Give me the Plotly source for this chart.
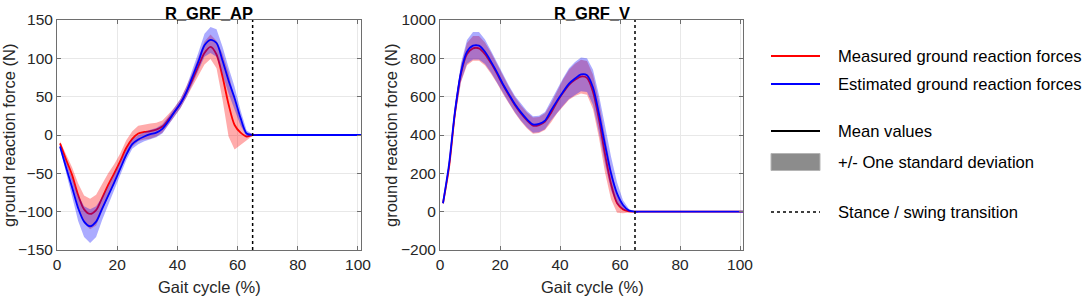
import plotly.graph_objects as go

W, H = 1084, 297

# ---------------- data ----------------
gait = [1, 3, 5, 7, 9, 11, 13, 15, 17, 19, 21, 23, 25, 27, 29, 31, 33,
        35, 37, 39, 41, 43, 45, 47, 49, 51, 53, 55, 57, 59, 61, 63, 65, 67, 101]

# R_GRF_AP
ap_meas_mean = [-11, -32, -52, -78, -97, -103, -98, -82, -65, -50, -34, -17, -5, 2, 4, 5, 7,
                11, 20, 30, 41, 56, 72, 90, 107, 115, 105, 76, 40, 13, 3, -2, 0, 0, 0]
ap_meas_std = [3, 6, 10, 15, 18, 20, 20, 18, 15, 12, 10, 10, 10, 10, 10, 10, 9,
               8, 7, 6, 6, 7, 9, 12, 15, 16, 18, 30, 42, 32, 15, 5, 1, 0, 0]
ap_est_mean = [-15, -42, -68, -95, -113, -119, -113, -96, -79, -62, -44, -26, -12, -6, -2, 1, 3,
               8, 18, 30, 41, 56, 76, 96, 117, 124, 120, 97, 71, 48, 22, 2, 0, 0, 0]
ap_est_std = [3, 7, 12, 17, 20, 22, 20, 15, 12, 10, 8, 7, 6, 6, 6, 6, 6,
              6, 6, 6, 6, 7, 9, 12, 15, 17, 18, 18, 17, 15, 10, 4, 1, 0, 0]

# R_GRF_V
v_meas_mean = [44, 230, 515, 720, 822, 852, 852, 822, 775, 720, 660, 606, 555, 512, 476, 449, 452,
               470, 515, 572, 620, 662, 688, 705, 698, 625, 480, 300, 145, 45, 12, 2, 0, 0, 0]
v_meas_std = [5, 15, 30, 45, 58, 65, 65, 60, 55, 50, 46, 44, 42, 42, 42, 42, 42,
              44, 50, 60, 70, 78, 84, 88, 88, 90, 95, 95, 80, 50, 20, 6, 1, 0, 0]
v_est_mean = [44, 245, 525, 728, 834, 866, 866, 834, 783, 727, 665, 612, 560, 518, 482, 455, 458,
              475, 528, 578, 624, 668, 695, 716, 712, 648, 510, 350, 200, 95, 35, 6, 0, 0, 0]
v_est_std = [5, 15, 32, 48, 62, 72, 72, 64, 57, 51, 47, 45, 43, 43, 43, 43, 43,
             45, 52, 62, 72, 80, 86, 88, 88, 92, 98, 100, 88, 58, 25, 8, 1, 0, 0]

transition = 65
titles = ["R_GRF_AP", "R_GRF_V"]
x_ticks = [0, 20, 40, 60, 80, 100]
ap_ticks = [-150, -100, -50, 0, 50, 100, 150]
v_ticks = [-200, 0, 200, 400, 600, 800, 1000]

legend_labels = ["Measured ground reaction forces", "Estimated ground reaction forces",
                 "Mean values", "+/- One standard deviation", "Stance / swing transition"]

# ---------------- style ----------------
RED = "#ff0000"
BLUE = "#0000ff"
RED_FILL = "rgba(255,0,0,0.33)"
BLUE_FILL = "rgba(0,0,255,0.33)"
FONT = "Liberation Sans, Arial, sans-serif"


def px_x(p):
    return p / W


def px_y(p):
    return (H - p) / H


fig = go.Figure()


def add_series(xa, ya, mean, std, line_col, fill_col):
    up = [m + s for m, s in zip(mean, std)]
    lo = [m - s for m, s in zip(mean, std)]
    fig.add_trace(go.Scatter(x=gait + gait[::-1], y=up + lo[::-1], fill="toself",
                             fillcolor=fill_col, line=dict(width=0), mode="lines",
                             hoverinfo="skip", showlegend=False, xaxis=xa, yaxis=ya))
    fig.add_trace(go.Scatter(x=gait, y=mean, mode="lines",
                             line=dict(color=line_col, width=1.8, shape="spline", smoothing=0.8),
                             showlegend=False, xaxis=xa, yaxis=ya))


add_series("x", "y", ap_meas_mean, ap_meas_std, RED, RED_FILL)
add_series("x", "y", ap_est_mean, ap_est_std, BLUE, BLUE_FILL)
add_series("x2", "y2", v_meas_mean, v_meas_std, RED, RED_FILL)
add_series("x2", "y2", v_est_mean, v_est_std, BLUE, BLUE_FILL)

axis_common = dict(showline=True, linecolor="#6e6e6e", linewidth=1, mirror="ticks",
                   ticks="inside", ticklen=4, tickcolor="#6e6e6e",
                   showgrid=True, gridcolor="#e8e8e8", gridwidth=1, zeroline=False,
                   automargin=False,
                   tickfont=dict(family=FONT, size=15.5, color="#262626"))

y0, y1 = px_y(250), px_y(20)
fig.update_layout(
    width=W, height=H, margin=dict(l=0, r=0, t=0, b=0, pad=0, autoexpand=False),
    paper_bgcolor="white", plot_bgcolor="white", showlegend=False,
    xaxis=dict(domain=[px_x(57), px_x(361)], range=[0, 101], tickvals=x_ticks, **axis_common),
    yaxis=dict(domain=[y0, y1], range=[-150, 150], tickvals=ap_ticks, **axis_common),
    xaxis2=dict(domain=[px_x(440), px_x(743)], range=[0, 101], tickvals=x_ticks,
                anchor="y2", **axis_common),
    yaxis2=dict(domain=[y0, y1], range=[-200, 1000], tickvals=v_ticks,
                anchor="x2", **axis_common),
)

# stance / swing transition lines
for xr, yr in (("x", "y domain"), ("x2", "y2 domain")):
    fig.add_shape(type="line", xref=xr, yref=yr, x0=transition, x1=transition, y0=0, y1=1,
                  line=dict(color="black", width=1.5, dash="dot"))

# titles and axis labels
ann = []
base = dict(showarrow=False, xref="paper", yref="paper", xanchor="center", yanchor="middle")
for cx, t in ((209, titles[0]), (592, titles[1])):
    ann.append(dict(x=px_x(cx), y=px_y(13), text="<b>%s</b>" % t,
                    font=dict(family=FONT, size=16.5, color="black"), **base))
    ann.append(dict(x=px_x(cx), y=px_y(287), text="Gait cycle (%)",
                    font=dict(family=FONT, size=16.5, color="#262626"), **base))
for cx in (9, 391):
    ann.append(dict(x=px_x(cx), y=px_y(136), text="ground reaction force (N)", textangle=-90,
                    font=dict(family=FONT, size=16.5, color="#262626"), **base))

# legend (drawn manually)
rows = [56, 84, 131, 162, 212]
lx0, lx1, tx = 771, 820, 836
shapes_leg = [
    dict(type="line", x0=px_x(lx0), x1=px_x(lx1), y0=px_y(rows[0]), y1=px_y(rows[0]),
         line=dict(color=RED, width=1.8)),
    dict(type="line", x0=px_x(lx0), x1=px_x(lx1), y0=px_y(rows[1]), y1=px_y(rows[1]),
         line=dict(color=BLUE, width=1.8)),
    dict(type="line", x0=px_x(lx0), x1=px_x(lx1), y0=px_y(rows[2]), y1=px_y(rows[2]),
         line=dict(color="black", width=1.8)),
    dict(type="rect", x0=px_x(lx0), x1=px_x(lx1), y0=px_y(rows[3] - 8.5), y1=px_y(rows[3] + 8.5),
         fillcolor="#8c8c8c", line=dict(color="#b5b5b5", width=1)),
    dict(type="line", x0=px_x(lx0), x1=px_x(lx1), y0=px_y(rows[4]), y1=px_y(rows[4]),
         line=dict(color="black", width=1.5, dash="dot")),
]
for s in shapes_leg:
    s.update(xref="paper", yref="paper")
    fig.add_shape(**s)
for r, lab in zip(rows, legend_labels):
    ann.append(dict(x=px_x(tx), y=px_y(r), text=lab, showarrow=False, xanchor="left",
                    yanchor="middle", xref="paper", yref="paper",
                    font=dict(family=FONT, size=16.6, color="black")))

fig.update_layout(annotations=ann)
fig.write_html("out.html", config={"displayModeBar": False},
               post_script="document.body.style.margin='0';document.body.style.overflow='hidden';")
